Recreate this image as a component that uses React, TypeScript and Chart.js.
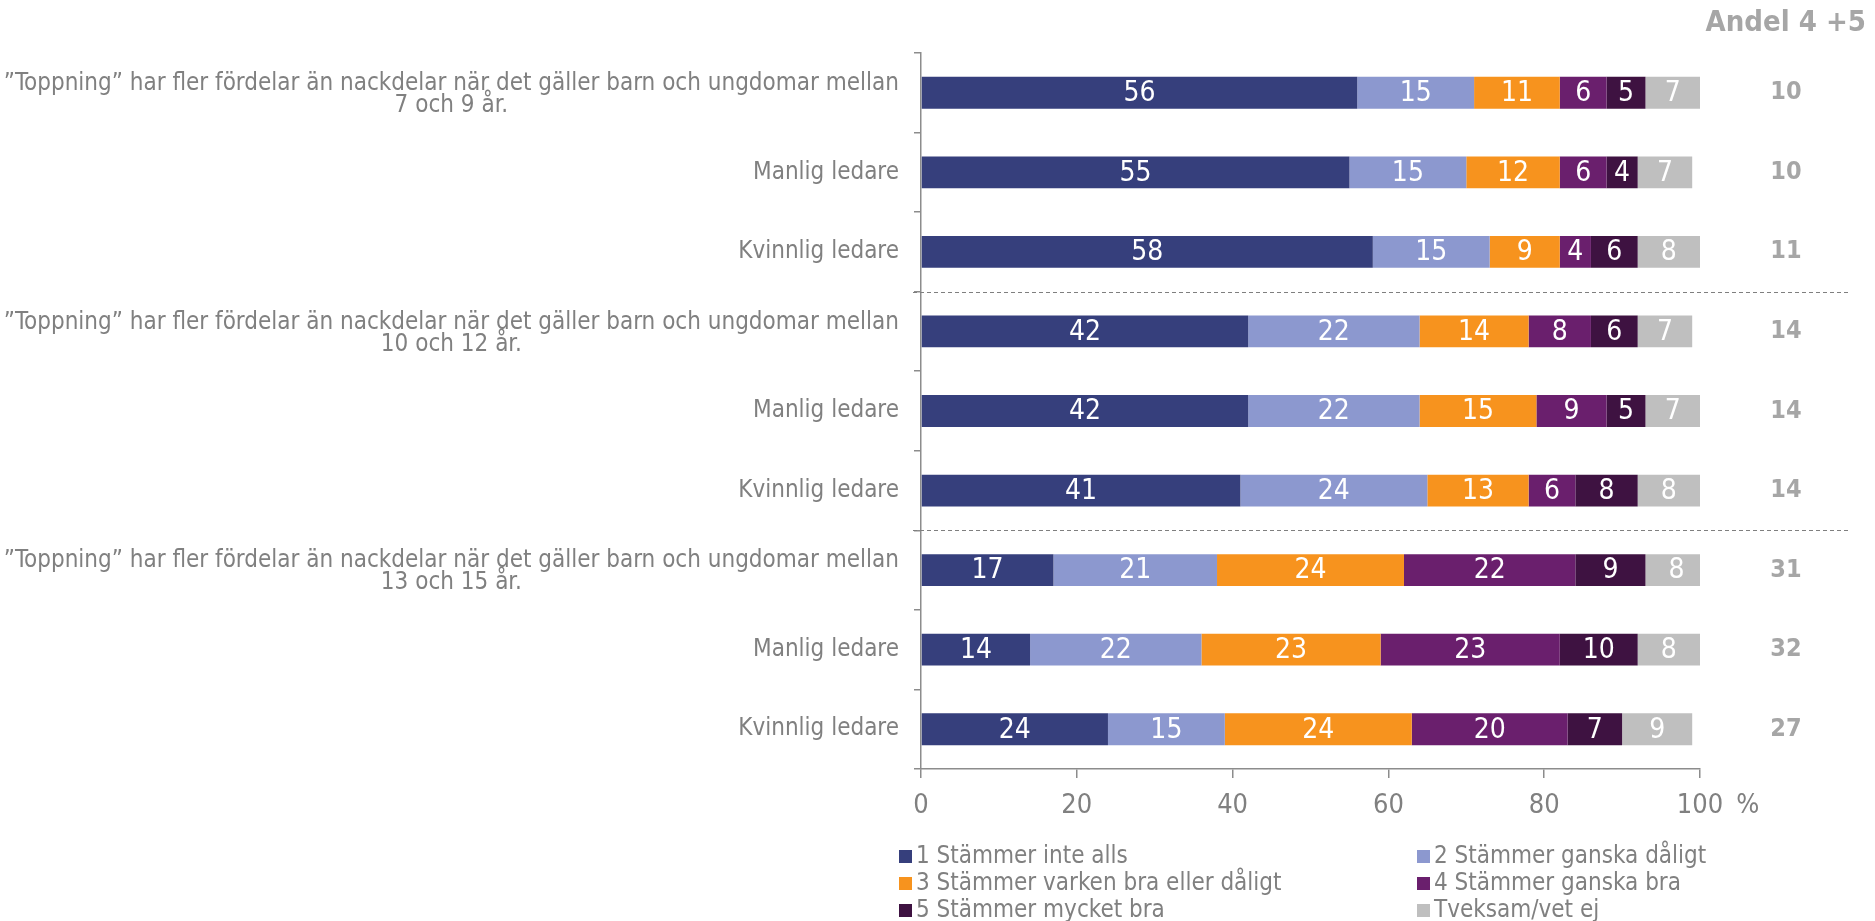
import React, { useEffect, useRef } from "react";
import { Chart, registerables } from "chart.js";

Chart.register(...registerables);

const Q = "\u201D";
const longLabel = Q + "Toppning" + Q + " har fler fördelar än nackdelar när det gäller barn och ungdomar mellan";

const categories: (string | string[])[] = [
  [longLabel, "7 och 9 år."],
  "Manlig ledare",
  "Kvinnlig ledare",
  [longLabel, "10 och 12 år."],
  "Manlig ledare",
  "Kvinnlig ledare",
  [longLabel, "13 och 15 år."],
  "Manlig ledare",
  "Kvinnlig ledare",
];

const seriesLabels = [
  "1 Stämmer inte alls",
  "2 Stämmer ganska dåligt",
  "3 Stämmer varken bra eller dåligt",
  "4 Stämmer ganska bra",
  "5 Stämmer mycket bra",
  "Tveksam/vet ej",
];

const s1 = [56, 55, 58, 42, 42, 41, 17, 14, 24];
const s2 = [15, 15, 15, 22, 22, 24, 21, 22, 15];
const s3 = [11, 12, 9, 14, 15, 13, 24, 23, 24];
const s4 = [6, 6, 4, 8, 9, 6, 22, 23, 20];
const s5 = [5, 4, 6, 6, 5, 8, 9, 10, 7];
const s6 = [7, 7, 8, 7, 7, 8, 8, 8, 9];

const andel = [10, 10, 11, 14, 14, 14, 31, 32, 27];
const andelTitle = "Andel 4 +5";
const xTickValues = [0, 20, 40, 60, 80, 100];
const groupBreaks = [3, 6];

const COLORS = ["#363F7C", "#8C98CF", "#F7931E", "#6A1F6D", "#3E1241", "#BFBFBF"];
const FONT = '"DejaVu Sans Condensed", "DejaVu Sans", sans-serif';
const TEXT_GRAY = "#808080";
const AXIS_GRAY = "#8C8C8C";
const ANDEL_GRAY = "#A6A6A6";
const X_TICK_SIZE = 27;
const X_TICK_LEN = 9;
const X_TICK_PAD = 12;

const overlayPlugin = {
  id: "overlay",
  afterDatasetsDraw(chart: any) {
    const ctx = chart.ctx as CanvasRenderingContext2D;
    const area = chart.chartArea;
    const yScale = chart.scales.y;
    const xScale = chart.scales.x;
    ctx.save();

    // data labels
    ctx.font = `28px ${FONT}`;
    ctx.fillStyle = "#FFFFFF";
    ctx.textAlign = "center";
    ctx.textBaseline = "middle";
    chart.data.datasets.forEach((ds: any, di: number) => {
      const meta = chart.getDatasetMeta(di);
      meta.data.forEach((el: any, i: number) => {
        const v = ds.data[i];
        const cx = (el.x + el.base) / 2;
        ctx.fillText(String(v), cx, el.y + 1);
      });
    });

    // category labels
    ctx.font = `24px ${FONT}`;
    ctx.fillStyle = TEXT_GRAY;
    const rightEdge = area.left - 22;
    categories.forEach((lab, i) => {
      const y = yScale.getPixelForValue(i);
      if (Array.isArray(lab)) {
        const w = ctx.measureText(lab[0]).width;
        ctx.textAlign = "center";
        const cx = rightEdge - w / 2;
        const lh = 22;
        const startY = y + 2 - ((lab.length - 1) * lh) / 2;
        lab.forEach((line, k) => ctx.fillText(line, cx, startY + k * lh));
      } else {
        ctx.textAlign = "right";
        ctx.fillText(lab, rightEdge, y);
      }
    });

    // dashed group separators
    ctx.strokeStyle = "#7F7F7F";
    ctx.lineWidth = 1;
    ctx.setLineDash([4, 3]);
    groupBreaks.forEach((b) => {
      const y = Math.round((yScale.getPixelForValue(b - 1) + yScale.getPixelForValue(b)) / 2) + 0.5;
      ctx.beginPath();
      ctx.moveTo(area.left - 8, y);
      ctx.lineTo(1848, y);
      ctx.stroke();
    });
    ctx.setLineDash([]);

    // Andel column
    ctx.fillStyle = ANDEL_GRAY;
    ctx.font = `bold 29px ${FONT}`;
    ctx.textAlign = "right";
    ctx.fillText(andelTitle, 1866, 23);
    ctx.font = `bold 25px ${FONT}`;
    ctx.textAlign = "center";
    andel.forEach((v, i) => {
      ctx.fillText(String(v), 1786, yScale.getPixelForValue(i));
    });

    // percent sign after 100
    ctx.font = `${X_TICK_SIZE}px ${FONT}`;
    ctx.fillStyle = TEXT_GRAY;
    ctx.textAlign = "left";
    ctx.textBaseline = "middle";
    const x100 = xScale.getPixelForValue(100);
    const w100 = ctx.measureText("100").width;
    const ty = area.bottom + X_TICK_LEN + X_TICK_PAD + (X_TICK_SIZE * 1.2) / 2;
    ctx.fillText("%", x100 + w100 / 2 + 13, ty);

    // legend
    ctx.textBaseline = "middle";
    ctx.font = `24px ${FONT}`;
    const colX = [899, 1417];
    const rowY = [856, 883, 910];
    seriesLabels.forEach((lab, i) => {
      const col = i % 2;
      const row = Math.floor(i / 2);
      const x = colX[col];
      const y = rowY[row];
      ctx.fillStyle = chart.data.datasets[i].backgroundColor;
      ctx.fillRect(x, y - 6, 13, 13);
      ctx.fillStyle = TEXT_GRAY;
      ctx.textAlign = "left";
      ctx.fillText(lab, x + 17, y + 1);
    });

    ctx.restore();
  },
};

export default function App() {
  const ref = useRef<HTMLCanvasElement>(null);
  useEffect(() => {
    document.body.style.margin = "0";
    if (!ref.current) return;
    const all = [s1, s2, s3, s4, s5, s6];
    const datasets = all.map((d, i) => ({
      label: seriesLabels[i],
      data: d,
      backgroundColor: COLORS[i],
      borderWidth: 0,
      barPercentage: 0.4,
      categoryPercentage: 1,
    }));
    const chart = new Chart(ref.current, {
      type: "bar",
      data: { labels: categories.map((c) => (Array.isArray(c) ? c.join(" ") : c)), datasets },
      options: {
        indexAxis: "y",
        responsive: false,
        animation: false,
        layout: { padding: { left: 911, right: 175, top: 53, bottom: 0 } },
        plugins: { legend: { display: false }, tooltip: { enabled: false } },
        scales: {
          x: {
            stacked: true,
            min: 0,
            max: 100,
            afterBuildTicks: (s: any) => {
              s.ticks = xTickValues.map((v) => ({ value: v }));
            },
            grid: { drawOnChartArea: false, drawTicks: true, tickLength: X_TICK_LEN, color: AXIS_GRAY, lineWidth: 1.5 },
            border: { display: true, color: AXIS_GRAY, width: 1.5 },
            ticks: {
              font: { family: FONT, size: X_TICK_SIZE },
              color: TEXT_GRAY,
              padding: X_TICK_PAD,
              maxRotation: 0,
              autoSkip: false,
              callback: (v: any) => String(v),
            },
            afterFit: (s: any) => {
              s.height = 152;
            },
          },
          y: {
            stacked: true,
            grid: { offset: true, drawOnChartArea: false, drawTicks: true, tickLength: 7, color: AXIS_GRAY, lineWidth: 1.5 },
            border: { display: true, color: AXIS_GRAY, width: 1.5 },
            ticks: { display: false },
            afterFit: (s: any) => {
              s.width = 10;
            },
          },
        },
      } as any,
      plugins: [overlayPlugin],
    });
    return () => chart.destroy();
  }, []);
  return <canvas ref={ref} width={1875} height={921} style={{ display: "block" }} />;
}
